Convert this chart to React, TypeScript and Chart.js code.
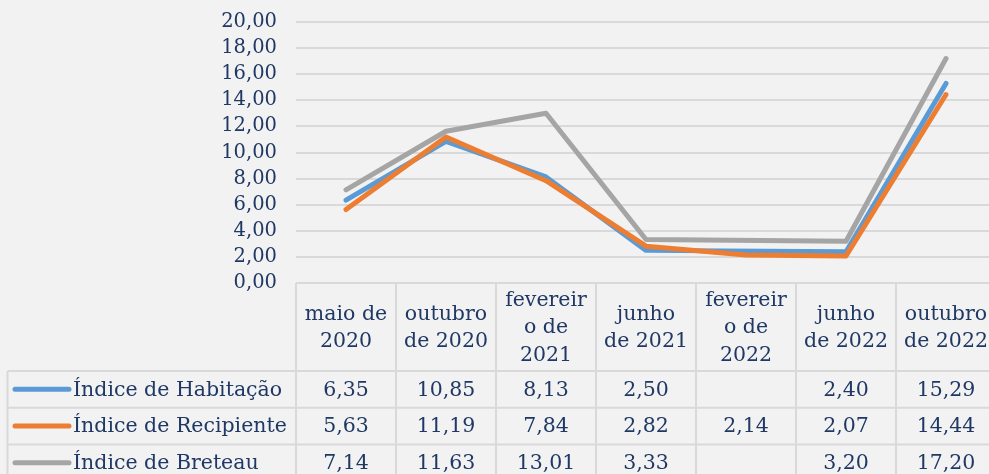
import React, { useEffect, useRef } from "react";
import { Chart, registerables } from "chart.js";

Chart.register(...registerables);

const categories: string[][] = [
  ["maio de", "2020"],
  ["outubro", "de 2020"],
  ["fevereir", "o de", "2021"],
  ["junho", "de 2021"],
  ["fevereir", "o de", "2022"],
  ["junho", "de 2022"],
  ["outubro", "de 2022"],
];
const habitacao: (number | null)[] = [6.35, 10.85, 8.13, 2.5, null, 2.4, 15.29];
const recipiente: (number | null)[] = [5.63, 11.19, 7.84, 2.82, 2.14, 2.07, 14.44];
const breteau: (number | null)[] = [7.14, 11.63, 13.01, 3.33, null, 3.2, 17.2];
const seriesNames = ["Índice de Habitação", "Índice de Recipiente", "Índice de Breteau"];
const seriesColors = ["#5B9BD5", "#ED7D31", "#A5A5A5"];
const yMin = 0;
const yMax = 20;
const yStep = 2;

const NAVY = "#1f3864";
const FONT = "DejaVu Serif";
const TICK_SIZE = 19.5;
const TABLE_SIZE = 20.5;
const GRID = "#d9d9d9";

const fmt = (v: number | null) => (v == null ? "" : v.toFixed(2).replace(".", ","));

const bgPlugin = {
  id: "bg",
  beforeDraw(chart: any) {
    const { ctx, width, height } = chart;
    ctx.save();
    ctx.fillStyle = "#f2f2f2";
    ctx.fillRect(0, 0, width, height);
    ctx.restore();
  },
};

const tablePlugin = {
  id: "dataTable",
  afterDraw(chart: any) {
    const { ctx, chartArea } = chart;
    const x = chart.scales.x;
    const labels = chart.data.labels as string[][];
    const n = labels.length;
    const colW = x.getPixelForValue(1) - x.getPixelForValue(0);
    const left = chartArea.left;
    const top = chartArea.bottom;
    const right = left + n * colW;
    const headerH = 88;
    const rowH = 36.7;
    const legendLeft = 7.5;
    const bottom = top + headerH + chart.data.datasets.length * rowH;

    ctx.save();
    ctx.strokeStyle = GRID;
    ctx.lineWidth = 2;
    const line = (x1: number, y1: number, x2: number, y2: number) => {
      ctx.beginPath();
      ctx.moveTo(x1, y1);
      ctx.lineTo(x2, y2);
      ctx.stroke();
    };
    line(left, top, right, top);
    for (let r = 0; r <= chart.data.datasets.length; r++) {
      const y = top + headerH + r * rowH;
      line(legendLeft, y, right, y);
    }
    for (let c = 0; c <= n; c++) {
      const xx = left + c * colW;
      line(xx, top, xx, bottom);
    }
    line(legendLeft, top + headerH, legendLeft, bottom);

    ctx.fillStyle = NAVY;
    ctx.font = `${TABLE_SIZE}px "${FONT}"`;
    ctx.textAlign = "center";
    ctx.textBaseline = "middle";
    const lineH = 27.5;
    labels.forEach((lab, i) => {
      const cx = x.getPixelForValue(i);
      const startY = top + headerH / 2 + 1 - ((lab.length - 1) * lineH) / 2;
      lab.forEach((t, k) => ctx.fillText(t, cx, startY + k * lineH));
    });

    chart.data.datasets.forEach((ds: any, r: number) => {
      const yc = top + headerH + r * rowH + rowH / 2;
      ctx.save();
      ctx.strokeStyle = ds.borderColor;
      ctx.lineWidth = 5;
      ctx.lineCap = "round";
      line(15, yc, 69, yc);
      ctx.restore();
      ctx.fillStyle = NAVY;
      ctx.textAlign = "left";
      ctx.fillText(ds.label, 73, yc + 1);
      ctx.textAlign = "center";
      ds.data.forEach((v: number | null, i: number) => {
        ctx.fillText(fmt(v), x.getPixelForValue(i), yc + 1);
      });
    });
    ctx.restore();
  },
};

export default function App() {
  const ref = useRef<HTMLCanvasElement | null>(null);
  useEffect(() => {
    if (!ref.current) return;
    const seriesData = [habitacao, recipiente, breteau];
    const chart = new Chart(ref.current, {
      type: "line",
      data: {
        labels: categories as any,
        datasets: seriesData.map((d, i) => ({
          label: seriesNames[i],
          data: d,
          borderColor: seriesColors[i],
          backgroundColor: seriesColors[i],
          borderWidth: 5,
          pointRadius: 0,
          pointHoverRadius: 0,
          spanGaps: true,
          tension: 0,
          borderCapStyle: "round",
          borderJoinStyle: "round",
          order: 2 - i,
        })),
      },
      options: {
        animation: false,
        responsive: false,
        layout: { padding: { top: 22, bottom: 191, left: 0, right: 4 } },
        plugins: { legend: { display: false }, tooltip: { enabled: false } },
        scales: {
          x: { type: "category", offset: true, display: false },
          y: {
            min: yMin,
            max: yMax,
            ticks: {
              stepSize: yStep,
              autoSkip: false,
              color: NAVY,
              font: { family: FONT, size: TICK_SIZE },
              padding: 19,
              callback: (v: any) => Number(v).toFixed(2).replace(".", ","),
            },
            grid: { color: GRID, lineWidth: 2, drawTicks: false },
            border: { display: false },
            afterFit: (s: any) => {
              s.width = 296;
              s.paddingTop = 0;
              s.paddingBottom = 0;
            },
          },
        },
      } as any,
      plugins: [bgPlugin, tablePlugin],
    });
    return () => chart.destroy();
  }, []);
  return (
    <div
      style={{
        position: "absolute",
        left: 0,
        top: 0,
        width: 989,
        height: 474,
        overflow: "hidden",
        background: "#f2f2f2",
      }}
    >
      <canvas ref={ref} width={1000} height={474} style={{ display: "block" }} />
    </div>
  );
}
